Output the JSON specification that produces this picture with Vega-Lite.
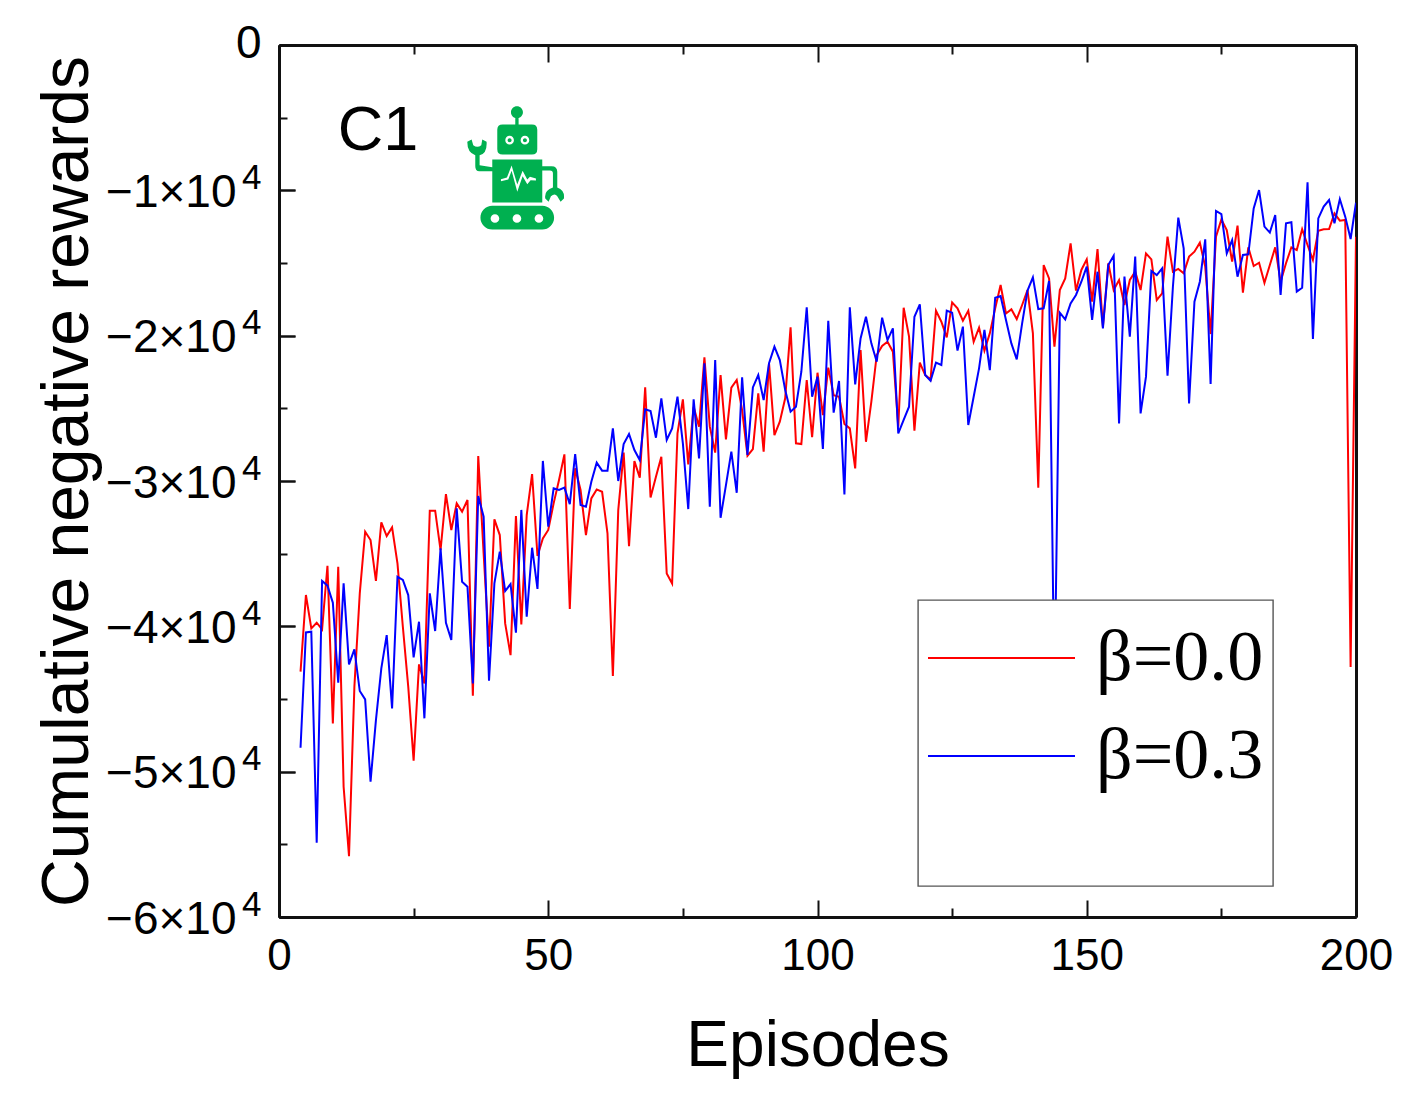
{"$schema":"https://vega.github.io/schema/vega-lite/v6.json","autosize":{"type":"none"},"padding":{"left":279,"top":45,"right":70,"bottom":193},"width":1077,"height":872,"background":"white","data":{"values":[
{"episode":4,"beta":"β=0.0","reward":-43120},{"episode":5,"beta":"β=0.0","reward":-37846},{"episode":6,"beta":"β=0.0","reward":-40140},{"episode":7,"beta":"β=0.0","reward":-39750},{"episode":8,"beta":"β=0.0","reward":-40210},{"episode":9,"beta":"β=0.0","reward":-35830},{"episode":10,"beta":"β=0.0","reward":-46680},{"episode":11,"beta":"β=0.0","reward":-35900},{"episode":12,"beta":"β=0.0","reward":-51040},{"episode":13,"beta":"β=0.0","reward":-55810},{"episode":14,"beta":"β=0.0","reward":-44150},{"episode":15,"beta":"β=0.0","reward":-37730},{"episode":16,"beta":"β=0.0","reward":-33490},{"episode":17,"beta":"β=0.0","reward":-34060},{"episode":18,"beta":"β=0.0","reward":-36880},{"episode":19,"beta":"β=0.0","reward":-32850},{"episode":20,"beta":"β=0.0","reward":-33790},{"episode":21,"beta":"β=0.0","reward":-33190},{"episode":22,"beta":"β=0.0","reward":-35670},{"episode":23,"beta":"β=0.0","reward":-40030},{"episode":24,"beta":"β=0.0","reward":-44150},{"episode":25,"beta":"β=0.0","reward":-49250},{"episode":26,"beta":"β=0.0","reward":-42620},{"episode":27,"beta":"β=0.0","reward":-43930},{"episode":28,"beta":"β=0.0","reward":-32040},{"episode":29,"beta":"β=0.0","reward":-32040},{"episode":30,"beta":"β=0.0","reward":-34750},{"episode":31,"beta":"β=0.0","reward":-30900},{"episode":32,"beta":"β=0.0","reward":-33370},{"episode":33,"beta":"β=0.0","reward":-31540},{"episode":34,"beta":"β=0.0","reward":-32110},{"episode":35,"beta":"β=0.0","reward":-31310},{"episode":36,"beta":"β=0.0","reward":-44780},{"episode":37,"beta":"β=0.0","reward":-28280},{"episode":38,"beta":"β=0.0","reward":-34980},{"episode":39,"beta":"β=0.0","reward":-41400},{"episode":40,"beta":"β=0.0","reward":-32640},{"episode":41,"beta":"β=0.0","reward":-33720},{"episode":42,"beta":"β=0.0","reward":-39800},{"episode":43,"beta":"β=0.0","reward":-41980},{"episode":44,"beta":"β=0.0","reward":-32410},{"episode":45,"beta":"β=0.0","reward":-39870},{"episode":46,"beta":"β=0.0","reward":-32340},{"episode":47,"beta":"β=0.0","reward":-29520},{"episode":48,"beta":"β=0.0","reward":-35160},{"episode":49,"beta":"β=0.0","reward":-33950},{"episode":50,"beta":"β=0.0","reward":-33370},{"episode":51,"beta":"β=0.0","reward":-31540},{"episode":52,"beta":"β=0.0","reward":-29930},{"episode":53,"beta":"β=0.0","reward":-28170},{"episode":54,"beta":"β=0.0","reward":-38810},{"episode":55,"beta":"β=0.0","reward":-29130},{"episode":56,"beta":"β=0.0","reward":-30620},{"episode":57,"beta":"β=0.0","reward":-33720},{"episode":58,"beta":"β=0.0","reward":-31200},{"episode":59,"beta":"β=0.0","reward":-30580},{"episode":60,"beta":"β=0.0","reward":-30740},{"episode":61,"beta":"β=0.0","reward":-33600},{"episode":62,"beta":"β=0.0","reward":-43420},{"episode":63,"beta":"β=0.0","reward":-32000},{"episode":64,"beta":"β=0.0","reward":-28050},{"episode":65,"beta":"β=0.0","reward":-34480},{"episode":66,"beta":"β=0.0","reward":-28630},{"episode":67,"beta":"β=0.0","reward":-29770},{"episode":68,"beta":"β=0.0","reward":-23560},{"episode":69,"beta":"β=0.0","reward":-31130},{"episode":70,"beta":"β=0.0","reward":-29700},{"episode":71,"beta":"β=0.0","reward":-28330},{"episode":72,"beta":"β=0.0","reward":-36360},{"episode":73,"beta":"β=0.0","reward":-37050},{"episode":74,"beta":"β=0.0","reward":-26720},{"episode":75,"beta":"β=0.0","reward":-24380},{"episode":76,"beta":"β=0.0","reward":-28860},{"episode":77,"beta":"β=0.0","reward":-24890},{"episode":78,"beta":"β=0.0","reward":-26260},{"episode":79,"beta":"β=0.0","reward":-21490},{"episode":80,"beta":"β=0.0","reward":-26260},{"episode":81,"beta":"β=0.0","reward":-28050},{"episode":82,"beta":"β=0.0","reward":-22710},{"episode":83,"beta":"β=0.0","reward":-27140},{"episode":84,"beta":"β=0.0","reward":-23580},{"episode":85,"beta":"β=0.0","reward":-23050},{"episode":86,"beta":"β=0.0","reward":-25120},{"episode":87,"beta":"β=0.0","reward":-28260},{"episode":88,"beta":"β=0.0","reward":-27800},{"episode":89,"beta":"β=0.0","reward":-23970},{"episode":90,"beta":"β=0.0","reward":-27980},{"episode":91,"beta":"β=0.0","reward":-21900},{"episode":92,"beta":"β=0.0","reward":-26840},{"episode":93,"beta":"β=0.0","reward":-25920},{"episode":94,"beta":"β=0.0","reward":-24310},{"episode":95,"beta":"β=0.0","reward":-19430},{"episode":96,"beta":"β=0.0","reward":-27410},{"episode":97,"beta":"β=0.0","reward":-27460},{"episode":98,"beta":"β=0.0","reward":-23050},{"episode":99,"beta":"β=0.0","reward":-26990},{"episode":100,"beta":"β=0.0","reward":-22550},{"episode":101,"beta":"β=0.0","reward":-25460},{"episode":102,"beta":"β=0.0","reward":-22200},{"episode":103,"beta":"β=0.0","reward":-24090},{"episode":104,"beta":"β=0.0","reward":-24200},{"episode":105,"beta":"β=0.0","reward":-26080},{"episode":106,"beta":"β=0.0","reward":-26380},{"episode":107,"beta":"β=0.0","reward":-29130},{"episode":108,"beta":"β=0.0","reward":-20990},{"episode":109,"beta":"β=0.0","reward":-27300},{"episode":110,"beta":"β=0.0","reward":-24540},{"episode":111,"beta":"β=0.0","reward":-21330},{"episode":112,"beta":"β=0.0","reward":-20710},{"episode":113,"beta":"β=0.0","reward":-20420},{"episode":114,"beta":"β=0.0","reward":-21100},{"episode":115,"beta":"β=0.0","reward":-26260},{"episode":116,"beta":"β=0.0","reward":-18080},{"episode":117,"beta":"β=0.0","reward":-20070},{"episode":118,"beta":"β=0.0","reward":-26540},{"episode":119,"beta":"β=0.0","reward":-21860},{"episode":120,"beta":"β=0.0","reward":-22710},{"episode":121,"beta":"β=0.0","reward":-23010},{"episode":122,"beta":"β=0.0","reward":-18280},{"episode":123,"beta":"β=0.0","reward":-19040},{"episode":124,"beta":"β=0.0","reward":-20120},{"episode":125,"beta":"β=0.0","reward":-17710},{"episode":126,"beta":"β=0.0","reward":-18120},{"episode":127,"beta":"β=0.0","reward":-18970},{"episode":128,"beta":"β=0.0","reward":-18280},{"episode":129,"beta":"β=0.0","reward":-20420},{"episode":130,"beta":"β=0.0","reward":-19450},{"episode":131,"beta":"β=0.0","reward":-21030},{"episode":132,"beta":"β=0.0","reward":-19840},{"episode":133,"beta":"β=0.0","reward":-18120},{"episode":134,"beta":"β=0.0","reward":-16510},{"episode":135,"beta":"β=0.0","reward":-18470},{"episode":136,"beta":"β=0.0","reward":-18190},{"episode":137,"beta":"β=0.0","reward":-18860},{"episode":138,"beta":"β=0.0","reward":-17890},{"episode":139,"beta":"β=0.0","reward":-16860},{"episode":140,"beta":"β=0.0","reward":-19840},{"episode":141,"beta":"β=0.0","reward":-30460},{"episode":142,"beta":"β=0.0","reward":-15140},{"episode":143,"beta":"β=0.0","reward":-16060},{"episode":144,"beta":"β=0.0","reward":-20760},{"episode":145,"beta":"β=0.0","reward":-16860},{"episode":146,"beta":"β=0.0","reward":-16060},{"episode":147,"beta":"β=0.0","reward":-13650},{"episode":148,"beta":"β=0.0","reward":-16900},{"episode":149,"beta":"β=0.0","reward":-15480},{"episode":150,"beta":"β=0.0","reward":-14750},{"episode":151,"beta":"β=0.0","reward":-17660},{"episode":152,"beta":"β=0.0","reward":-14040},{"episode":153,"beta":"β=0.0","reward":-19380},{"episode":154,"beta":"β=0.0","reward":-15020},{"episode":155,"beta":"β=0.0","reward":-16860},{"episode":156,"beta":"β=0.0","reward":-16170},{"episode":157,"beta":"β=0.0","reward":-17890},{"episode":158,"beta":"β=0.0","reward":-16170},{"episode":159,"beta":"β=0.0","reward":-15600},{"episode":160,"beta":"β=0.0","reward":-16860},{"episode":161,"beta":"β=0.0","reward":-14340},{"episode":162,"beta":"β=0.0","reward":-14750},{"episode":163,"beta":"β=0.0","reward":-17550},{"episode":164,"beta":"β=0.0","reward":-17090},{"episode":165,"beta":"β=0.0","reward":-13190},{"episode":166,"beta":"β=0.0","reward":-15600},{"episode":167,"beta":"β=0.0","reward":-15410},{"episode":168,"beta":"β=0.0","reward":-15710},{"episode":169,"beta":"β=0.0","reward":-14560},{"episode":170,"beta":"β=0.0","reward":-14220},{"episode":171,"beta":"β=0.0","reward":-13600},{"episode":172,"beta":"β=0.0","reward":-15250},{"episode":173,"beta":"β=0.0","reward":-19890},{"episode":174,"beta":"β=0.0","reward":-13190},{"episode":175,"beta":"β=0.0","reward":-12000},{"episode":176,"beta":"β=0.0","reward":-12730},{"episode":177,"beta":"β=0.0","reward":-14910},{"episode":178,"beta":"β=0.0","reward":-12430},{"episode":179,"beta":"β=0.0","reward":-17040},{"episode":180,"beta":"β=0.0","reward":-13920},{"episode":181,"beta":"β=0.0","reward":-15210},{"episode":182,"beta":"β=0.0","reward":-14980},{"episode":183,"beta":"β=0.0","reward":-16360},{"episode":184,"beta":"β=0.0","reward":-15140},{"episode":185,"beta":"β=0.0","reward":-13920},{"episode":186,"beta":"β=0.0","reward":-16290},{"episode":187,"beta":"β=0.0","reward":-15020},{"episode":188,"beta":"β=0.0","reward":-13920},{"episode":189,"beta":"β=0.0","reward":-14110},{"episode":190,"beta":"β=0.0","reward":-12680},{"episode":191,"beta":"β=0.0","reward":-13760},{"episode":192,"beta":"β=0.0","reward":-14790},{"episode":193,"beta":"β=0.0","reward":-12780},{"episode":194,"beta":"β=0.0","reward":-12680},{"episode":195,"beta":"β=0.0","reward":-12660},{"episode":196,"beta":"β=0.0","reward":-11580},{"episode":197,"beta":"β=0.0","reward":-12090},{"episode":198,"beta":"β=0.0","reward":-12040},{"episode":199,"beta":"β=0.0","reward":-42800},{"episode":200,"beta":"β=0.0","reward":-13200},
{"episode":4,"beta":"β=0.3","reward":-48350},{"episode":5,"beta":"β=0.3","reward":-40420},{"episode":6,"beta":"β=0.3","reward":-40370},{"episode":7,"beta":"β=0.3","reward":-54890},{"episode":8,"beta":"β=0.3","reward":-36880},{"episode":9,"beta":"β=0.3","reward":-37200},{"episode":10,"beta":"β=0.3","reward":-38370},{"episode":11,"beta":"β=0.3","reward":-43880},{"episode":12,"beta":"β=0.3","reward":-37040},{"episode":13,"beta":"β=0.3","reward":-42620},{"episode":14,"beta":"β=0.3","reward":-41590},{"episode":15,"beta":"β=0.3","reward":-44450},{"episode":16,"beta":"β=0.3","reward":-45030},{"episode":17,"beta":"β=0.3","reward":-50690},{"episode":18,"beta":"β=0.3","reward":-46450},{"episode":19,"beta":"β=0.3","reward":-42890},{"episode":20,"beta":"β=0.3","reward":-40600},{"episode":21,"beta":"β=0.3","reward":-45650},{"episode":22,"beta":"β=0.3","reward":-36590},{"episode":23,"beta":"β=0.3","reward":-36810},{"episode":24,"beta":"β=0.3","reward":-37850},{"episode":25,"beta":"β=0.3","reward":-42140},{"episode":26,"beta":"β=0.3","reward":-39680},{"episode":27,"beta":"β=0.3","reward":-46330},{"episode":28,"beta":"β=0.3","reward":-37730},{"episode":29,"beta":"β=0.3","reward":-40320},{"episode":30,"beta":"β=0.3","reward":-34640},{"episode":31,"beta":"β=0.3","reward":-39750},{"episode":32,"beta":"β=0.3","reward":-40940},{"episode":33,"beta":"β=0.3","reward":-31880},{"episode":34,"beta":"β=0.3","reward":-36930},{"episode":35,"beta":"β=0.3","reward":-37270},{"episode":36,"beta":"β=0.3","reward":-43930},{"episode":37,"beta":"β=0.3","reward":-31030},{"episode":38,"beta":"β=0.3","reward":-32460},{"episode":39,"beta":"β=0.3","reward":-43740},{"episode":40,"beta":"β=0.3","reward":-37040},{"episode":41,"beta":"β=0.3","reward":-34860},{"episode":42,"beta":"β=0.3","reward":-37570},{"episode":43,"beta":"β=0.3","reward":-37090},{"episode":44,"beta":"β=0.3","reward":-40440},{"episode":45,"beta":"β=0.3","reward":-31990},{"episode":46,"beta":"β=0.3","reward":-39340},{"episode":47,"beta":"β=0.3","reward":-34590},{"episode":48,"beta":"β=0.3","reward":-37430},{"episode":49,"beta":"β=0.3","reward":-28620},{"episode":50,"beta":"β=0.3","reward":-33140},{"episode":51,"beta":"β=0.3","reward":-30510},{"episode":52,"beta":"β=0.3","reward":-30620},{"episode":53,"beta":"β=0.3","reward":-30460},{"episode":54,"beta":"β=0.3","reward":-31590},{"episode":55,"beta":"β=0.3","reward":-28150},{"episode":56,"beta":"β=0.3","reward":-31650},{"episode":57,"beta":"β=0.3","reward":-31770},{"episode":58,"beta":"β=0.3","reward":-30050},{"episode":59,"beta":"β=0.3","reward":-28740},{"episode":60,"beta":"β=0.3","reward":-29290},{"episode":61,"beta":"β=0.3","reward":-29290},{"episode":62,"beta":"β=0.3","reward":-26380},{"episode":63,"beta":"β=0.3","reward":-30000},{"episode":64,"beta":"β=0.3","reward":-27460},{"episode":65,"beta":"β=0.3","reward":-26770},{"episode":66,"beta":"β=0.3","reward":-27870},{"episode":67,"beta":"β=0.3","reward":-28560},{"episode":68,"beta":"β=0.3","reward":-25070},{"episode":69,"beta":"β=0.3","reward":-25190},{"episode":70,"beta":"β=0.3","reward":-27020},{"episode":71,"beta":"β=0.3","reward":-24310},{"episode":72,"beta":"β=0.3","reward":-27180},{"episode":73,"beta":"β=0.3","reward":-26380},{"episode":74,"beta":"β=0.3","reward":-24200},{"episode":75,"beta":"β=0.3","reward":-27410},{"episode":76,"beta":"β=0.3","reward":-31930},{"episode":77,"beta":"β=0.3","reward":-24380},{"episode":78,"beta":"β=0.3","reward":-28440},{"episode":79,"beta":"β=0.3","reward":-21900},{"episode":80,"beta":"β=0.3","reward":-31770},{"episode":81,"beta":"β=0.3","reward":-21680},{"episode":82,"beta":"β=0.3","reward":-32530},{"episode":83,"beta":"β=0.3","reward":-30280},{"episode":84,"beta":"β=0.3","reward":-27980},{"episode":85,"beta":"β=0.3","reward":-30810},{"episode":86,"beta":"β=0.3","reward":-22870},{"episode":87,"beta":"β=0.3","reward":-28210},{"episode":88,"beta":"β=0.3","reward":-23560},{"episode":89,"beta":"β=0.3","reward":-22710},{"episode":90,"beta":"β=0.3","reward":-24430},{"episode":91,"beta":"β=0.3","reward":-21900},{"episode":92,"beta":"β=0.3","reward":-20760},{"episode":93,"beta":"β=0.3","reward":-21680},{"episode":94,"beta":"β=0.3","reward":-23740},{"episode":95,"beta":"β=0.3","reward":-25230},{"episode":96,"beta":"β=0.3","reward":-24890},{"episode":97,"beta":"β=0.3","reward":-22480},{"episode":98,"beta":"β=0.3","reward":-18050},{"episode":99,"beta":"β=0.3","reward":-24200},{"episode":100,"beta":"β=0.3","reward":-22820},{"episode":101,"beta":"β=0.3","reward":-27800},{"episode":102,"beta":"β=0.3","reward":-18970},{"episode":103,"beta":"β=0.3","reward":-25300},{"episode":104,"beta":"β=0.3","reward":-23120},{"episode":105,"beta":"β=0.3","reward":-30920},{"episode":106,"beta":"β=0.3","reward":-18050},{"episode":107,"beta":"β=0.3","reward":-23350},{"episode":108,"beta":"β=0.3","reward":-20190},{"episode":109,"beta":"β=0.3","reward":-18700},{"episode":110,"beta":"β=0.3","reward":-20530},{"episode":111,"beta":"β=0.3","reward":-21790},{"episode":112,"beta":"β=0.3","reward":-18760},{"episode":113,"beta":"β=0.3","reward":-20300},{"episode":114,"beta":"β=0.3","reward":-19500},{"episode":115,"beta":"β=0.3","reward":-26720},{"episode":116,"beta":"β=0.3","reward":-25800},{"episode":117,"beta":"β=0.3","reward":-24890},{"episode":118,"beta":"β=0.3","reward":-18700},{"episode":119,"beta":"β=0.3","reward":-17850},{"episode":120,"beta":"β=0.3","reward":-22710},{"episode":121,"beta":"β=0.3","reward":-23100},{"episode":122,"beta":"β=0.3","reward":-21860},{"episode":123,"beta":"β=0.3","reward":-22020},{"episode":124,"beta":"β=0.3","reward":-18280},{"episode":125,"beta":"β=0.3","reward":-18420},{"episode":126,"beta":"β=0.3","reward":-21030},{"episode":127,"beta":"β=0.3","reward":-19380},{"episode":128,"beta":"β=0.3","reward":-26150},{"episode":129,"beta":"β=0.3","reward":-24200},{"episode":130,"beta":"β=0.3","reward":-22250},{"episode":131,"beta":"β=0.3","reward":-19610},{"episode":132,"beta":"β=0.3","reward":-22370},{"episode":133,"beta":"β=0.3","reward":-17390},{"episode":134,"beta":"β=0.3","reward":-17270},{"episode":135,"beta":"β=0.3","reward":-18920},{"episode":136,"beta":"β=0.3","reward":-20530},{"episode":137,"beta":"β=0.3","reward":-21630},{"episode":138,"beta":"β=0.3","reward":-19150},{"episode":139,"beta":"β=0.3","reward":-16900},{"episode":140,"beta":"β=0.3","reward":-15990},{"episode":141,"beta":"β=0.3","reward":-18170},{"episode":142,"beta":"β=0.3","reward":-18120},{"episode":143,"beta":"β=0.3","reward":-16240},{"episode":144,"beta":"β=0.3","reward":-45000},{"episode":145,"beta":"β=0.3","reward":-18420},{"episode":146,"beta":"β=0.3","reward":-18880},{"episode":147,"beta":"β=0.3","reward":-17780},{"episode":148,"beta":"β=0.3","reward":-17200},{"episode":149,"beta":"β=0.3","reward":-16290},{"episode":150,"beta":"β=0.3","reward":-15250},{"episode":151,"beta":"β=0.3","reward":-18920},{"episode":152,"beta":"β=0.3","reward":-15600},{"episode":153,"beta":"β=0.3","reward":-19500},{"episode":154,"beta":"β=0.3","reward":-15140},{"episode":155,"beta":"β=0.3","reward":-14500},{"episode":156,"beta":"β=0.3","reward":-26040},{"episode":157,"beta":"β=0.3","reward":-15940},{"episode":158,"beta":"β=0.3","reward":-20070},{"episode":159,"beta":"β=0.3","reward":-14560},{"episode":160,"beta":"β=0.3","reward":-25350},{"episode":161,"beta":"β=0.3","reward":-22820},{"episode":162,"beta":"β=0.3","reward":-15550},{"episode":163,"beta":"β=0.3","reward":-15830},{"episode":164,"beta":"β=0.3","reward":-15370},{"episode":165,"beta":"β=0.3","reward":-22750},{"episode":166,"beta":"β=0.3","reward":-16630},{"episode":167,"beta":"β=0.3","reward":-11880},{"episode":168,"beta":"β=0.3","reward":-13990},{"episode":169,"beta":"β=0.3","reward":-24660},{"episode":170,"beta":"β=0.3","reward":-17660},{"episode":171,"beta":"β=0.3","reward":-16290},{"episode":172,"beta":"β=0.3","reward":-13370},{"episode":173,"beta":"β=0.3","reward":-23330},{"episode":174,"beta":"β=0.3","reward":-11420},{"episode":175,"beta":"β=0.3","reward":-11630},{"episode":176,"beta":"β=0.3","reward":-14340},{"episode":177,"beta":"β=0.3","reward":-13420},{"episode":178,"beta":"β=0.3","reward":-15940},{"episode":179,"beta":"β=0.3","reward":-14450},{"episode":180,"beta":"β=0.3","reward":-14400},{"episode":181,"beta":"β=0.3","reward":-11240},{"episode":182,"beta":"β=0.3","reward":-9980},{"episode":183,"beta":"β=0.3","reward":-12500},{"episode":184,"beta":"β=0.3","reward":-12910},{"episode":185,"beta":"β=0.3","reward":-11700},{"episode":186,"beta":"β=0.3","reward":-17200},{"episode":187,"beta":"β=0.3","reward":-12270},{"episode":188,"beta":"β=0.3","reward":-12200},{"episode":189,"beta":"β=0.3","reward":-16970},{"episode":190,"beta":"β=0.3","reward":-16700},{"episode":191,"beta":"β=0.3","reward":-9450},{"episode":192,"beta":"β=0.3","reward":-20230},{"episode":193,"beta":"β=0.3","reward":-11930},{"episode":194,"beta":"β=0.3","reward":-11120},{"episode":195,"beta":"β=0.3","reward":-10670},{"episode":196,"beta":"β=0.3","reward":-12270},{"episode":197,"beta":"β=0.3","reward":-10600},{"episode":198,"beta":"β=0.3","reward":-11810},{"episode":199,"beta":"β=0.3","reward":-13350},{"episode":200,"beta":"β=0.3","reward":-10850}
]},
"layer":[
{"mark":{"type":"line","opacity":0},"encoding":{
"x":{"field":"episode","type":"quantitative","scale":{"domain":[0,200],"nice":false},"axis":{"orient":"bottom","values":[0,50,100,150,200],"tickSize":-17,"labelPadding":34,"labelFontSize":44,"labelFlush":false,"title":"Episodes","titleFontSize":64,"titleX":538.5,"titleY":148,"titleBaseline":"alphabetic","titleFont":"Liberation Sans","titleFontWeight":"normal"}},
"y":{"field":"reward","type":"quantitative","scale":{"domain":[-60000,0],"nice":false},"axis":{"orient":"left","values":[-10000,-20000,-30000,-40000,-50000,-60000],"tickSize":-16,"labelPadding":59,"labelOffset":2,"labelExpr":"'−' + (-datum.value / 10000) + '×10'","title":"Cumulative negative rewards","titleFontSize":66,"titleX":-192,"titleY":436,"titleBaseline":"alphabetic","titleFont":"Liberation Sans","titleFontWeight":"normal"}}}},
{"mark":{"type":"line","opacity":0},"encoding":{
"x":{"field":"episode","type":"quantitative","axis":{"orient":"bottom","values":[25,75,125,175],"tickSize":-9,"labels":false,"title":null}},
"y":{"field":"reward","type":"quantitative","axis":{"orient":"left","values":[-5000,-15000,-25000,-35000,-45000,-55000],"tickSize":-8,"labels":false,"title":null}}}},
{"mark":{"type":"line","opacity":0},"encoding":{
"x":{"field":"episode","type":"quantitative","axis":{"orient":"top","values":[0,50,100,150,200],"tickSize":-17,"labels":false,"title":null}},
"y":{"field":"reward","type":"quantitative","axis":{"orient":"right","ticks":false,"labels":false,"title":null}}}},
{"mark":{"type":"line","opacity":0},"encoding":{
"x":{"field":"episode","type":"quantitative","axis":{"orient":"top","values":[25,75,125,175],"tickSize":-9,"labels":false,"title":null}},
"y":{"field":"reward","type":"quantitative","axis":null}}},
{"mark":{"type":"line","opacity":0},"encoding":{
"x":{"field":"episode","type":"quantitative","axis":null},
"y":{"field":"reward","type":"quantitative","axis":{"orient":"left","values":[-10000,-20000,-30000,-40000,-50000,-60000],"tickSize":-16,"domain":false,"labelPadding":34,"labelFontSize":35,"labelOffset":-13,"labelExpr":"'4'","title":null}}}},
{"mark":{"type":"line","opacity":0},"encoding":{
"x":{"field":"episode","type":"quantitative","axis":null},
"y":{"field":"reward","type":"quantitative","axis":{"orient":"left","values":[0],"tickSize":-16,"domain":false,"labelPadding":34,"labelFontSize":46,"labelOffset":-2,"title":null}}}},
{"mark":{"type":"line","strokeWidth":2,"clip":true},"encoding":{
"x":{"field":"episode","type":"quantitative","axis":null},
"y":{"field":"reward","type":"quantitative","axis":null},
"color":{"field":"beta","type":"nominal","scale":{"domain":["β=0.0","β=0.3"],"range":["#ff0000","#0000ff"]},"legend":{"orient":"none","legendX":639,"legendY":555,"zindex":1,"title":" ","titleOrient":"bottom","titleFontSize":10,"titlePadding":62,"fillColor":"white","strokeColor":"#555555","padding":9,"symbolType":"stroke","symbolSize":21609,"symbolStrokeWidth":2,"labelFont":"Liberation Serif","labelFontSize":72,"labelOffset":20,"labelLimit":0,"clipHeight":98,"rowPadding":0}}}},
{"data":{"values":[{"episode":18.4,"reward":-5918,"note":"C1"}]},"mark":{"type":"text","font":"Liberation Sans","fontSize":63,"color":"black"},"encoding":{
"x":{"field":"episode","type":"quantitative","axis":null},
"y":{"field":"reward","type":"quantitative","axis":null},
"text":{"field":"note"}}},
{"data":{"values":[{"episode":44,"reward":-8498}]},"mark":{"type":"point","filled":true,"opacity":1,"size":0.4444,"color":"#00b050","shape":"M-15 -169 A18 18 0 1 1 21 -169 A18 18 0 1 1 -15 -169 Z M-2 -155 L8 -155 L8 -130 L-2 -130 Z M-40 -132 L48 -132 Q64 -132 64 -116 L64 -58 Q64 -42 48 -42 L-40 -42 Q-56 -42 -56 -58 L-56 -116 Q-56 -132 -40 -132 Z M-71 -27 L79 -27 L79 102 L-71 102 Z M-146 -80 L-133 -87 L-128 -70 Q-116 -60 -104 -70 L-101 -87 L-88 -80 Q-86 -45 -109 -40 L-109 -10 L-71 -4 L-71 8 L-110 8 Q-122 8 -122 -7 L-122 -40 Q-146 -47 -146 -80 Z M79 -7 L107 -7 Q124 -7 124 10 L124 57 Q147 65 144 90 L134 100 L124 83 Q117 73 105 83 L98 100 L88 90 Q84 65 111 57 L111 15 Q111 6 102 6 L79 6 Z M-71 112 L79 112 A35.5 35.5 0 0 1 79 183 L-71 183 A35.5 35.5 0 0 1 -71 112 Z"},"encoding":{
"x":{"field":"episode","type":"quantitative","axis":null},
"y":{"field":"reward","type":"quantitative","axis":null}}},
{"data":{"values":[{"episode":44,"reward":-8498}]},"mark":{"type":"point","filled":true,"opacity":1,"size":0.4444,"color":"white","shape":"M-32 -85 A13 13 0 1 1 -6 -85 A13 13 0 1 1 -32 -85 Z M-25 -85 A6 6 0 1 0 -13 -85 A6 6 0 1 0 -25 -85 Z M14 -85 A13 13 0 1 1 40 -85 A13 13 0 1 1 14 -85 Z M21 -85 A6 6 0 1 0 33 -85 A6 6 0 1 0 21 -85 Z M-45 32 L-27 27 L-13 -9 L4 48 L20 7 L34 33 L42 25 L60 30 L60 36 L44 35 L34 47 L20 23 L4 70 L-13 7 L-23 33 L-45 38 Z M-76 150 A13 13 0 1 1 -50 150 A13 13 0 1 1 -76 150 Z M-10 150 A13 13 0 1 1 16 150 A13 13 0 1 1 -10 150 Z M56 150 A13 13 0 1 1 82 150 A13 13 0 1 1 56 150 Z"},"encoding":{
"x":{"field":"episode","type":"quantitative","axis":null},
"y":{"field":"reward","type":"quantitative","axis":null}}}
],
"resolve":{"axis":{"x":"independent","y":"independent"}},
"config":{"view":{"stroke":null},"legend":{"strokeWidth":1.4},"axis":{"grid":false,"domainColor":"#111111","domainWidth":3,"tickColor":"#111111","tickWidth":2,"labelFont":"Liberation Sans","labelFontSize":46,"labelColor":"black","titleColor":"black"}}}
